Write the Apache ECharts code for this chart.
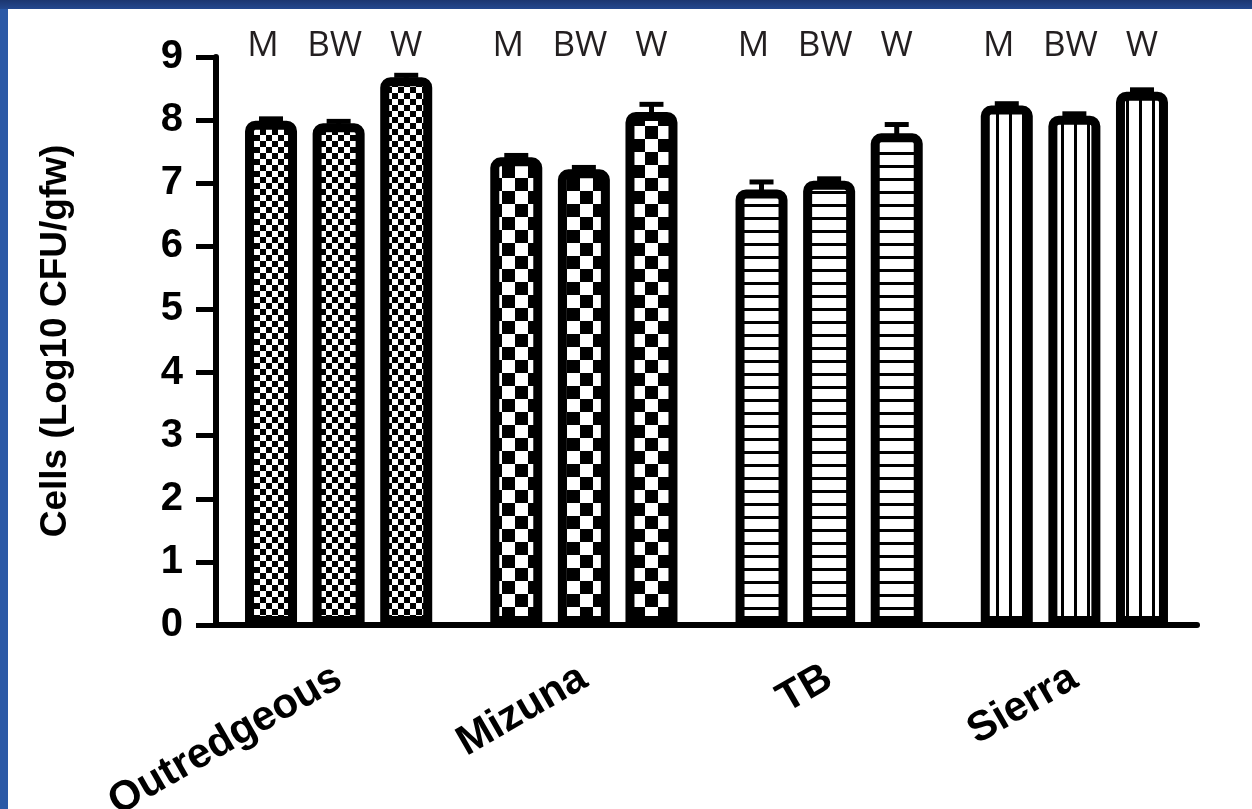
<!DOCTYPE html>
<html>
<head>
<meta charset="utf-8">
<script src="https://cdn.jsdelivr.net/npm/echarts@6/dist/echarts.min.js"></script>
<style>
  html, body { margin: 0; padding: 0; background: #2b59a6; }
  #top { position: absolute; left: 0; top: 0; width: 1252px; height: 9px; background: linear-gradient(#1c3670, #24488e); }
  #chart { position: absolute; left: 8px; top: 9px; width: 1244px; height: 800px; background: #fff; }
</style>
</head>
<body>
<div id="top"></div>
<div id="chart"></div>
<script>
// data
const categories = ['Outredgeous', 'Mizuna', 'TB', 'Sierra']
const groupNames = ['M', 'BW', 'W']
const mValues = [7.99, 7.41, 6.9, 8.23]
const bwValues = [7.95, 7.22, 7.04, 8.07]
const wValues = [8.68, 8.13, 7.79, 8.45]
const mErr = [0.03, 0.03, 0.12, 0.03]
const bwErr = [0.03, 0.03, 0.03, 0.03]
const wErr = [0.03, 0.12, 0.14, 0.03]

const BAR_W = 52
const BAR_GAP = 0.3
const PITCH = BAR_W * (1 + BAR_GAP)
const FONT = '"Liberation Sans", Arial, sans-serif'

// fill patterns
const makeCanvas = (w, h, draw) => {
  const c = document.createElement('canvas')
  c.width = w
  c.height = h
  const ctx = c.getContext('2d')
  ctx.fillStyle = '#fff'
  ctx.fillRect(0, 0, w, h)
  ctx.fillStyle = '#000'
  draw(ctx)
  return { image: c, repeat: 'repeat' }
}
const checker = (s) => makeCanvas(s * 2, s * 2, (ctx) => {
  ctx.fillRect(0, 0, s, s)
  ctx.fillRect(s, s, s, s)
})
const patterns = [
  checker(6),
  checker(13),
  makeCanvas(4, 13, (ctx) => ctx.fillRect(0, 0, 4, 3)),
  makeCanvas(13, 4, (ctx) => ctx.fillRect(0, 0, 3, 4))
]

const barSeries = (name, values) => ({
  name,
  type: 'bar',
  barWidth: BAR_W,
  barGap: (BAR_GAP * 100) + '%',
  data: values.map((v, i) => ({ value: v, itemStyle: { color: patterns[i] } })),
  itemStyle: { borderColor: '#000', borderWidth: 9, borderRadius: [6, 6, 0, 0] },
  silent: true
})

const groups = [[mValues, mErr], [bwValues, bwErr], [wValues, wErr]]
const errData = []
categories.forEach((c, i) => {
  groups.forEach((g, j) => errData.push([i, j, g[0][i], g[1][i]]))
})

const chart = echarts.init(document.getElementById('chart'))
chart.setOption({
  backgroundColor: '#fff',
  animation: false,
  grid: { left: 208, right: 55, top: 48, bottom: 184, outerBoundsMode: 'none', containLabel: false },
  xAxis: {
    type: 'category',
    data: categories,
    axisLine: { lineStyle: { color: '#000', width: 6 } },
    axisTick: { show: false },
    axisLabel: {
      interval: 0,
      rotate: 30,
      margin: 50,
      color: '#000',
      fontFamily: FONT,
      fontWeight: 'bold',
      fontSize: 42
    }
  },
  yAxis: {
    type: 'value',
    min: 0,
    max: 9,
    interval: 1,
    name: 'Cells (Log10 CFU/gfw)',
    nameLocation: 'middle',
    nameRotate: 90,
    nameGap: 142,
    nameTextStyle: { color: '#000', fontFamily: FONT, fontWeight: 'bold', fontSize: 37 },
    splitLine: { show: false },
    axisLine: { show: true, lineStyle: { color: '#000', width: 6 } },
    axisTick: { show: true, length: 20, lineStyle: { color: '#000', width: 5 } },
    axisLabel: { margin: 33, color: '#000', fontFamily: FONT, fontWeight: 'bold', fontSize: 40 }
  },
  series: [
    barSeries('M', mValues),
    barSeries('BW', bwValues),
    barSeries('W', wValues),
    {
      type: 'custom',
      clip: false,
      silent: true,
      z: 5,
      data: errData,
      encode: { x: 0, y: 2 },
      renderItem: (params, api) => {
        const cat = api.value(0)
        const g = api.value(1)
        const mean = api.value(2)
        const err = api.value(3)
        const base = api.coord([cat, mean])
        const top = api.coord([cat, mean + err])
        const x = base[0] + (g - 1) * PITCH
        const labelY = api.coord([cat, 9])[1] - 11
        return {
          type: 'group',
          children: [
            { type: 'rect', shape: { x: x - 2.5, y: top[1], width: 5, height: base[1] - top[1] + 4 }, style: { fill: '#000' } },
            { type: 'rect', shape: { x: x - 12, y: top[1] - 2.5, width: 24, height: 5 }, style: { fill: '#000' } },
            {
              type: 'text',
              style: {
                text: groupNames[g],
                x: x + (g === 0 ? -8 : (g === 1 ? -4 : 0)),
                y: labelY,
                align: 'center',
                verticalAlign: 'middle',
                textAlign: 'center',
                textVerticalAlign: 'middle',
                fill: '#231f20',
                font: '35px "Open Sans", sans-serif'
              }
            }
          ]
        }
      }
    }
  ]
})
</script>
</body>
</html>
